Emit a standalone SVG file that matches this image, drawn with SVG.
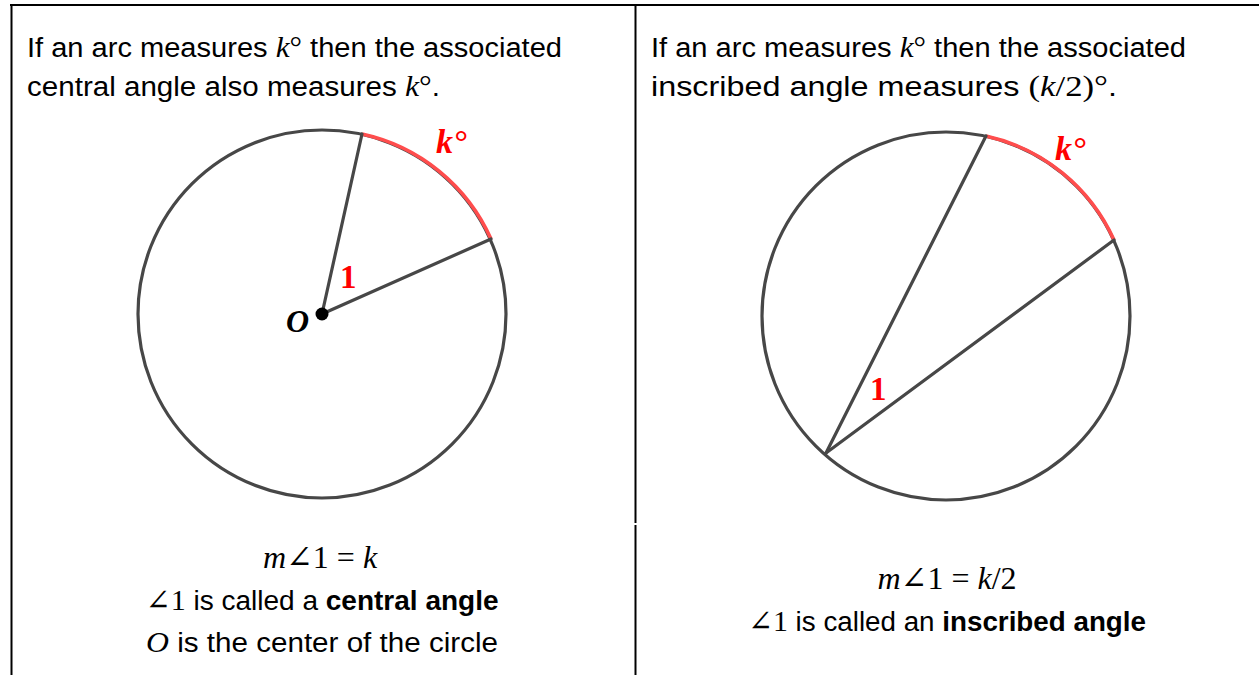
<svg xmlns="http://www.w3.org/2000/svg" width="1259" height="675" viewBox="0 0 1259 675">
<style>
.txt{font-family:"Liberation Sans","Open Sans",sans-serif;font-size:27px;fill:#000}
.math{font-family:"Liberation Serif","DejaVu Serif",serif;font-style:italic;font-size:29px}
.mathr{font-family:"Liberation Serif","DejaVu Serif",serif;font-size:29px}
.circ{fill:none;stroke:#474747;stroke-width:3.2}
.seg{stroke:#474747;stroke-width:3.2;stroke-linecap:round}
.arc{fill:none;stroke:#ff4d4d;stroke-width:3.6}
.lbl{font-family:"Liberation Serif","DejaVu Serif",serif;font-weight:bold;fill:#ff0000}
.b{font-weight:bold}
.border{stroke:#000;stroke-width:2}
.eq{font-family:"Liberation Serif","DejaVu Serif",serif;font-size:32px;fill:#000}
</style>
<rect width="1259" height="675" fill="#fff"/>
<g id="table">
<line class="border" x1="10" y1="5" x2="1259" y2="5"/>
<line class="border" x1="11.5" y1="4" x2="11.5" y2="675"/>
<line class="border" x1="635.5" y1="4" x2="635.5" y2="523"/>
<line class="border" x1="635.5" y1="525" x2="635.5" y2="675"/>
</g>
<g id="left-heading">
<text class="txt" x="27" y="57" textLength="535" lengthAdjust="spacingAndGlyphs">If an arc measures <tspan class="math">k</tspan><tspan class="mathr">°</tspan> then the associated</text>
<text class="txt" x="27" y="96" textLength="413" lengthAdjust="spacingAndGlyphs">central angle also measures <tspan class="math">k</tspan><tspan class="mathr">°</tspan>.</text>
</g>
<g id="right-heading">
<text class="txt" x="651" y="57" textLength="535" lengthAdjust="spacingAndGlyphs">If an arc measures <tspan class="math">k</tspan><tspan class="mathr">°</tspan> then the associated</text>
<text class="txt" x="651" y="96" textLength="466" lengthAdjust="spacingAndGlyphs">inscribed angle measures <tspan class="mathr">(</tspan><tspan class="math">k</tspan><tspan class="mathr">/2)°</tspan>.</text>
</g>
<g id="central-circle">
<circle class="circ" cx="322" cy="314" r="184"/>
<path class="arc" d="M362 134 A184 184 0 0 1 491 239"/>
<line class="seg" x1="322" y1="314" x2="362" y2="134"/>
<line class="seg" x1="322" y1="314" x2="491" y2="239"/>
<circle cx="322" cy="314" r="6.5" fill="#000"/>
<text class="lbl" x="436" y="153" font-size="34" font-style="italic">k°</text>
<text class="lbl" x="340" y="288" font-size="33">1</text>
<text x="286" y="332" font-family="Liberation Serif, DejaVu Serif, serif" font-weight="bold" font-style="italic" font-size="32" fill="#000">O</text>
</g>
<g id="inscribed-circle">
<circle class="circ" cx="946" cy="316" r="184"/>
<path class="arc" d="M986 136 A184 184 0 0 1 1114 240"/>
<line class="seg" x1="826" y1="453" x2="986" y2="136"/>
<line class="seg" x1="826" y1="453" x2="1114" y2="240"/>
<text class="lbl" x="1055" y="160" font-size="34" font-style="italic">k°</text>
<text class="lbl" x="870" y="400" font-size="33">1</text>
</g>
<g id="left-caption">
<text class="eq" x="320" y="568" text-anchor="middle"><tspan font-style="italic">m</tspan>∠1 = <tspan font-style="italic">k</tspan></text>
<text class="txt" x="322" y="610" text-anchor="middle" textLength="353" lengthAdjust="spacingAndGlyphs"><tspan class="mathr">∠1</tspan> is called a <tspan class="b">central angle</tspan></text>
<text class="txt" x="322" y="652" text-anchor="middle" textLength="352" lengthAdjust="spacingAndGlyphs"><tspan class="math">O</tspan> is the center of the circle</text>
</g>
<g id="right-caption">
<text class="eq" x="947" y="589" text-anchor="middle"><tspan font-style="italic">m</tspan>∠1 = <tspan font-style="italic">k</tspan>/2</text>
<text class="txt" x="947" y="631" text-anchor="middle" textLength="398" lengthAdjust="spacingAndGlyphs"><tspan class="mathr">∠1</tspan> is called an <tspan class="b">inscribed angle</tspan></text>
</g>
</svg>
